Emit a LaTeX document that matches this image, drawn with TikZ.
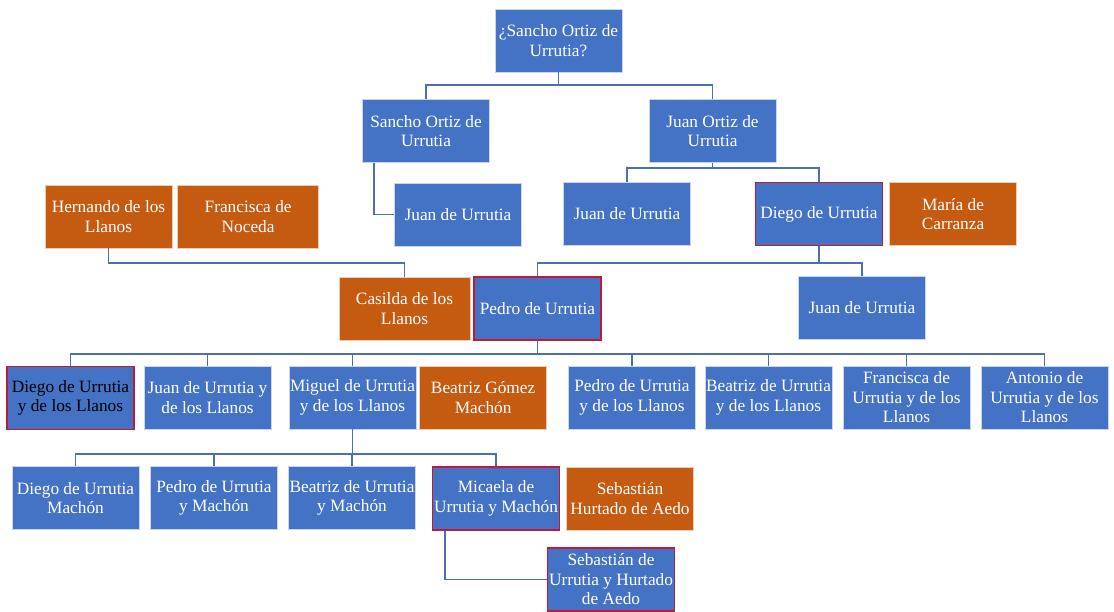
\documentclass[tikz,border=0pt]{standalone}
\usepackage{fontspec}
\setmainfont{Liberation Serif}
\usetikzlibrary{positioning}

\definecolor{boxblue}{HTML}{4472C4}
\definecolor{boxorange}{HTML}{C55A11}
\definecolor{linkblue}{HTML}{4A6FB5}
\definecolor{markred}{HTML}{C0193A}

\tikzset{
  person/.style={rectangle, fill=boxblue, draw=white!70!boxblue, line width=0.6pt,
    text=white, align=center, minimum width=127pt, minimum height=63pt, inner sep=1pt,
    font=\fontsize{17.3}{19.5}\selectfont},
  spouse/.style={person, fill=boxorange, draw=white!70!boxorange},
  marked/.style={draw=markred, line width=1.4pt},
  link/.style={draw=linkblue, line width=1.7pt},
}

\begin{document}
\begin{tikzpicture}[x=1pt, y=-1pt]
    \useasboundingbox (0,0) rectangle (1114,612);

    % first generations
    \node [person] (top) at (558.5,40.5) {¿Sancho Ortiz de\\Urrutia?};
    \node [person] (sancho) at (426,131) {Sancho Ortiz de\\Urrutia};
    \node [person] (juanortiz) at (712.5,131) {Juan Ortiz de\\Urrutia};
    \node [person] (juanA) at (458,214.5) {Juan de Urrutia};
    \node [person] (juanB) at (627,214) {Juan de Urrutia};
    \node [person, marked] (diego) at (819,214) {Diego de Urrutia};
    \node [spouse, right=6pt of diego] (maria) {María de\\Carranza};
    \node [spouse] (hernando) at (108.5,216.5) {Hernando de los\\Llanos};
    \node [spouse, minimum width=141pt, right=5pt of hernando] (francisca) {Francisca de\\Noceda};

    % Pedro and Casilda
    \node [person, marked] (pedro) at (537.5,308.5) {Pedro de Urrutia};
    \node [spouse, minimum width=131pt, left=3pt of pedro] (casilda) {Casilda de los\\Llanos};
    \node [person] (juanC) at (862,308) {Juan de Urrutia};

    % their children
    \node [person, marked, text=black] (diegoL) at (70.5,398) {Diego de Urrutia\\y de los Llanos};
    \node [person] (juanL) at (207.5,397.5) {Juan de Urrutia y\\de los Llanos};
    \node [person] (miguel) at (352.5,397.5) {Miguel de Urrutia\\y de los Llanos};
    \node [spouse, right=3pt of miguel] (beatrizG) {Beatriz Gómez\\Machón};
    \node [person] (pedroL) at (632,397.5) {Pedro de Urrutia\\y de los Llanos};
    \node [person] (beatrizL) at (768.5,397.5) {Beatriz de Urrutia\\y de los Llanos};
    \node [person] (franciscaL) at (906.5,397.5) {Francisca de\\Urrutia y de los\\Llanos};
    \node [person] (antonioL) at (1044.5,397.5) {Antonio de\\Urrutia y de los\\Llanos};

    % grandchildren
    \node [person] (diegoM) at (75.5,498) {Diego de Urrutia\\Machón};
    \node [person] (pedroM) at (214,498) {Pedro de Urrutia\\y Machón};
    \node [person] (beatrizM) at (352,498) {Beatriz de Urrutia\\y Machón};
    \node [person, marked] (micaela) at (496,498.5) {Micaela de\\Urrutia y Machón};
    \node [spouse, right=6pt of micaela] (sebastianH) {Sebastián\\Hurtado de Aedo};
    \node [person, marked] (sebastianU) at (611,579.5) {Sebastián de\\Urrutia y Hurtado\\de Aedo};

    % connectors
    \foreach \c in {sancho, juanortiz}
        \draw [link] (top.south) -- ++(0,13) -| (\c.north);
    \draw [link] ([xshift=12pt]sancho.south west) |- (juanA.west);
    \foreach \c in {juanB, diego}
        \draw [link] (juanortiz.south) -- ++(0,5) -| (\c.north);
    \foreach \c in {pedro, juanC}
        \draw [link] (diego.south) -- ++(0,17) -| (\c.north);
    \draw [link] (hernando.south) -- ++(0,15) -| (casilda.north);
    \foreach \c in {diegoL, juanL, miguel, pedroL, beatrizL, franciscaL, antonioL}
        \draw [link] (pedro.south) -- ++(0,13) -| (\c.north);
    \foreach \c in {diegoM, pedroM, beatrizM, micaela}
        \draw [link] (miguel.south) -- ++(0,25) -| (\c.north);
    \draw [link] ([xshift=13pt]micaela.south west) |- (sebastianU.west);
\end{tikzpicture}
\end{document}
